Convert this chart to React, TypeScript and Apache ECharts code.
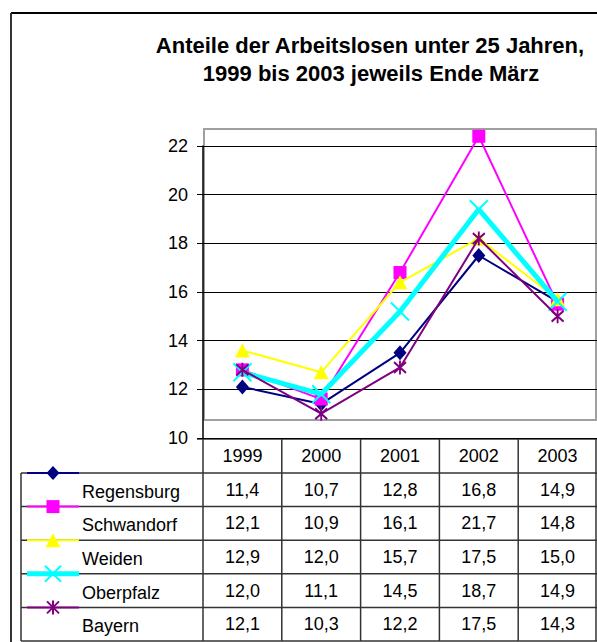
import React, { useEffect, useRef } from "react";
import * as echarts from "echarts";

const years = ["1999", "2000", "2001", "2002", "2003"];
const regions = ["Regensburg", "Schwandorf", "Weiden", "Oberpfalz", "Bayern"];

// values printed in the data table
const tableRegensburg = [11.4, 10.7, 12.8, 16.8, 14.9];
const tableSchwandorf = [12.1, 10.9, 16.1, 21.7, 14.8];
const tableWeiden = [12.9, 12.0, 15.7, 17.5, 15.0];
const tableOberpfalz = [12.0, 11.1, 14.5, 18.7, 14.9];
const tableBayern = [12.1, 10.3, 12.2, 17.5, 14.3];

// values as plotted in the line chart
const plotRegensburg = [12.1, 11.4, 13.5, 17.5, 15.6];
const plotSchwandorf = [12.8, 11.6, 16.8, 22.4, 15.5];
const plotWeiden = [13.6, 12.7, 16.4, 18.2, 15.7];
const plotOberpfalz = [12.7, 11.8, 15.2, 19.4, 15.6];
const plotBayern = [12.8, 11.0, 12.9, 18.2, 15.0];

const yTicks = { min: 10, max: 22, interval: 2 };

const FONT = "'Liberation Sans', Arial, Helvetica, sans-serif";
const W = 597;
const H = 642;
const GRID_LEFT = 203;
const GRID_TOP = 146;
const AXIS_Y = 438;
const BODY_SIZE = 18;
const TITLE_SIZE = 22;

const styles = [
  { color: "#000080", width: 2, symbol: "diamond", size: [13, 15], stroke: false },
  { color: "#FF00FF", width: 2, symbol: "rect", size: [13, 13], stroke: false },
  { color: "#FFFF00", width: 2, symbol: "triangle", size: [15, 14], stroke: false },
  { color: "#00FFFF", width: 5, symbol: "path://M0 0L10 10M10 0L0 10", size: [18, 18], stroke: true },
  { color: "#800080", width: 2, symbol: "path://M0 0L10 10M10 0L0 10M5 -1.5L5 11.5", size: [12, 14], stroke: true },
];

const fmt = (v: number) => v.toFixed(1).replace(".", ",");

export default function App() {
  const ref = useRef<HTMLDivElement>(null);
  useEffect(() => {
    if (!ref.current) return;
    const chart = echarts.init(ref.current, null, { renderer: "svg" });
    const plots = [plotRegensburg, plotSchwandorf, plotWeiden, plotOberpfalz, plotBayern];
    const tables = [tableRegensburg, tableSchwandorf, tableWeiden, tableOberpfalz, tableBayern];

    const colW = (W - GRID_LEFT) / years.length;
    const headerTop = AXIS_Y + 1;
    const firstRowTop = 473;
    const rowH = (641 - firstRowTop) / regions.length;
    const tableLeft = 21;
    const lineColor = "#333";

    const g: any[] = [];
    // outer chart border
    g.push({ type: "line", z: 0, shape: { x1: 11, y1: 13, x2: W, y2: 13 }, style: { stroke: "#000", lineWidth: 2 } });
    g.push({ type: "line", z: 0, shape: { x1: 11, y1: 13, x2: 11, y2: H }, style: { stroke: "#333", lineWidth: 2 } });
    // plot area frame (grey)
    g.push({ type: "rect", z: 0, shape: { x: 204, y: 129, width: 392, height: 291 }, style: { fill: "none", stroke: "#a0a0a0", lineWidth: 2 } });
    // title
    g.push({ type: "text", x: 370, y: 45, style: { text: "Anteile der Arbeitslosen unter 25 Jahren,", fontFamily: FONT, fontSize: TITLE_SIZE, fontWeight: "bold", fill: "#000", align: "center", verticalAlign: "middle" } });
    g.push({ type: "text", x: 371, y: 73, style: { text: "1999 bis 2003 jeweils Ende März", fontFamily: FONT, fontSize: TITLE_SIZE, fontWeight: "bold", fill: "#000", align: "center", verticalAlign: "middle" } });

    // table grid
    g.push({ type: "line", shape: { x1: 197, y1: headerTop, x2: W, y2: headerTop }, style: { stroke: lineColor, lineWidth: 1.5 } });
    for (let c = 0; c <= years.length; c++) {
      const x = Math.min(GRID_LEFT + c * colW, W - 1);
      g.push({ type: "line", shape: { x1: x, y1: headerTop, x2: x, y2: 641 }, style: { stroke: lineColor, lineWidth: 1.5 } });
    }
    for (let r = 0; r <= regions.length; r++) {
      const y = firstRowTop + r * rowH;
      g.push({ type: "line", shape: { x1: tableLeft, y1: y, x2: W, y2: y }, style: { stroke: lineColor, lineWidth: 1.5 } });
    }
    g.push({ type: "line", shape: { x1: tableLeft, y1: firstRowTop, x2: tableLeft, y2: 641 }, style: { stroke: lineColor, lineWidth: 1.5 } });

    // table rows: legend keys, names and values
    regions.forEach((name, r) => {
      const top = firstRowTop + r * rowH;
      const cy = top + rowH / 2 + 2;
      const s = styles[r];
      g.push({ type: "line", z: 5, shape: { x1: 27, y1: top, x2: 79, y2: top }, style: { stroke: s.color, lineWidth: s.width } });
      const mx = 53;
      if (r === 0) {
        g.push({ type: "polygon", z: 6, shape: { points: [[mx, top - 7], [mx + 6.5, top], [mx, top + 7], [mx - 6.5, top]] }, style: { fill: s.color } });
      } else if (r === 1) {
        g.push({ type: "rect", z: 6, shape: { x: mx - 6.5, y: top - 6.5, width: 13, height: 13 }, style: { fill: s.color } });
      } else if (r === 2) {
        g.push({ type: "polygon", z: 6, shape: { points: [[mx, top - 7], [mx + 7.5, top + 7], [mx - 7.5, top + 7]] }, style: { fill: s.color } });
      } else if (r === 3) {
        g.push({ type: "line", z: 6, shape: { x1: mx - 8, y1: top - 8, x2: mx + 8, y2: top + 8 }, style: { stroke: s.color, lineWidth: 2 } });
        g.push({ type: "line", z: 6, shape: { x1: mx + 8, y1: top - 8, x2: mx - 8, y2: top + 8 }, style: { stroke: s.color, lineWidth: 2 } });
      } else {
        g.push({ type: "line", z: 6, shape: { x1: mx - 6, y1: top - 6, x2: mx + 6, y2: top + 6 }, style: { stroke: s.color, lineWidth: 2 } });
        g.push({ type: "line", z: 6, shape: { x1: mx + 6, y1: top - 6, x2: mx - 6, y2: top + 6 }, style: { stroke: s.color, lineWidth: 2 } });
        g.push({ type: "line", z: 6, shape: { x1: mx, y1: top - 7, x2: mx, y2: top + 7 }, style: { stroke: s.color, lineWidth: 2 } });
      }
      g.push({ type: "text", x: 82, y: cy, style: { text: name, fontFamily: FONT, fontSize: BODY_SIZE, fill: "#000", align: "left", verticalAlign: "middle" } });
      tables[r].forEach((v, c) => {
        g.push({ type: "text", x: GRID_LEFT + (c + 0.5) * colW, y: cy - 2, style: { text: fmt(v), fontFamily: FONT, fontSize: BODY_SIZE, fill: "#000", align: "center", verticalAlign: "middle" } });
      });
    });

    chart.setOption({
      animation: false,
      backgroundColor: "#fff",
      textStyle: { fontFamily: FONT },
      grid: { left: GRID_LEFT, right: 0, top: GRID_TOP, bottom: H - AXIS_Y, containLabel: false },
      xAxis: {
        type: "category",
        data: years,
        boundaryGap: true,
        axisLine: { show: false },
        axisTick: { show: false },
        axisLabel: { color: "#000", fontSize: BODY_SIZE, fontFamily: FONT, margin: 18, verticalAlign: "middle" },
        splitLine: { show: false },
      },
      yAxis: {
        type: "value",
        min: yTicks.min,
        max: yTicks.max,
        interval: yTicks.interval,
        axisLine: { show: true, lineStyle: { color: "#000", width: 1.5 } },
        axisTick: { show: true, length: 6, lineStyle: { color: "#000" } },
        axisLabel: { color: "#000", fontSize: BODY_SIZE, fontFamily: FONT, margin: 15 },
        splitLine: { show: true, lineStyle: { color: "#000", width: 1 } },
      },
      graphic: { elements: g },
      series: regions.map((name, i) => {
        const s = styles[i];
        return {
          name,
          type: "line",
          data: plots[i],
          clip: false,
          symbol: s.symbol,
          symbolSize: s.size,
          showAllSymbol: true,
          color: s.color,
          lineStyle: { color: s.color, width: s.width },
          itemStyle: s.stroke
            ? { color: s.color, borderColor: s.color, borderWidth: 2 }
            : { color: s.color, borderWidth: 0 },
          emphasis: { disabled: true },
          z: 3 + i,
        };
      }),
    });
    return () => chart.dispose();
  }, []);
  return <div ref={ref} style={{ position: "absolute", left: 0, top: 0, width: W, height: H }} />;
}
